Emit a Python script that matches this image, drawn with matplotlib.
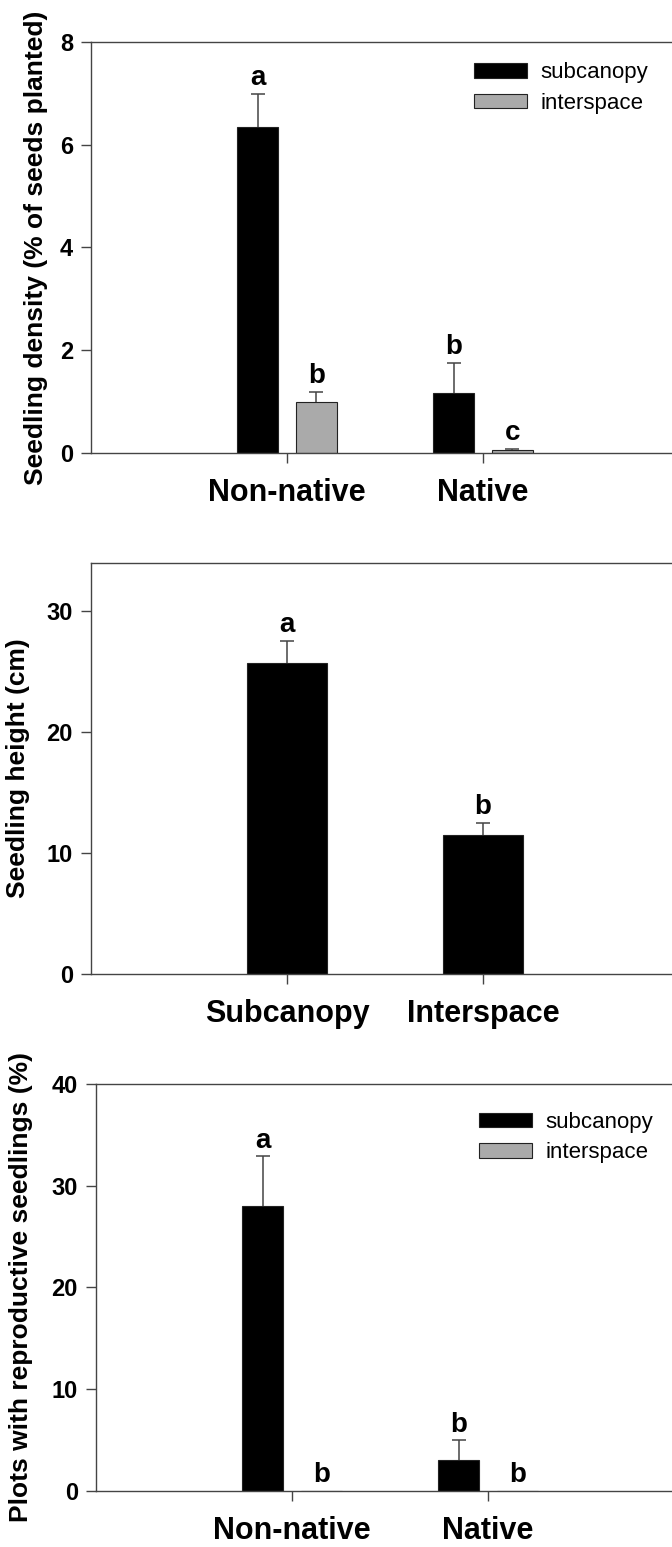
import matplotlib
matplotlib.use('Agg')
import matplotlib.pyplot as plt

plt.rcParams['font.family'] = ['Liberation Sans', 'DejaVu Sans']

# top panel: seedling density
origin = ['Non-native', 'Native']
dens_sub = [6.35, 1.16]
dens_sub_se = [0.64, 0.60]
dens_sub_let = ['a', 'b']
dens_int = [0.99, 0.05]
dens_int_se = [0.20, 0.03]
dens_int_let = ['b', 'c']

# middle panel: seedling height
microsite = ['Subcanopy', 'Interspace']
height = [25.7, 11.5]
height_se = [1.85, 1.0]
height_let = ['a', 'b']

# bottom panel: plots with reproductive seedlings
repro_sub = [28.0, 3.0]
repro_sub_se = [4.9, 1.96]
repro_sub_let = ['a', 'b']
repro_int = [0.0, 0.0]
repro_int_se = [0.0, 0.0]
repro_int_let = ['b', 'b']

EDGE = '#444444'
GREY = '#aaaaaa'


def draw_bars(ax, x, vals, se, letters, color, width, label=None):
    ax.bar(x, vals, width, color=color, edgecolor='#222222', linewidth=0.8,
           zorder=2, label=label)
    for xi, v, e, lab in zip(x, vals, se, letters):
        if e > 0:
            # upper half of the error bar only, cap on top
            ax.vlines(xi, v, v + e, color=EDGE, linewidth=1.1, zorder=3)
            ax.plot(xi, v + e, marker='_', markersize=10, markeredgewidth=1.1,
                    color=EDGE, zorder=3)
        ax.annotate(lab, (xi, v + e), xytext=(0, 2), textcoords='offset points',
                    ha='center', va='bottom', fontsize=20, fontweight='bold')


def style(ax, ytop, yticks, cats, ylabel, lab_x):
    ax.set_xlim(0, 3)
    ax.set_ylim(0, ytop)
    ax.set_yticks(yticks)
    ax.set_yticklabels([str(t) for t in yticks], fontweight='bold')
    ax.set_xticks([1, 2])
    ax.set_xticklabels(cats, fontsize=22, fontweight='bold')
    ax.tick_params(axis='x', length=7, width=1, pad=11, color=EDGE)
    ax.tick_params(axis='y', length=7, width=1, pad=6, labelsize=17, color=EDGE)
    ax.spines['right'].set_visible(False)
    for s in ax.spines.values():
        s.set_color(EDGE)
        s.set_linewidth(1.0)
    ax.set_ylabel(ylabel, fontsize=19, fontweight='bold')
    ax.yaxis.set_label_coords(lab_x, 0.5)


def add_legend(ax, top):
    ax.legend(loc='upper left', bbox_to_anchor=(0.651, top), frameon=False,
              fontsize=16, handlelength=2.4, handleheight=0.62,
              handletextpad=0.6, labelspacing=0.43, borderpad=0, borderaxespad=0)


fig = plt.figure(figsize=(6.72, 15.47), dpi=100)

off = 0.15
bw = 0.21
xs = [1, 2]

ax1 = fig.add_axes([0.1354, 0.7072, 0.875, 0.2657])
draw_bars(ax1, [x - off for x in xs], dens_sub, dens_sub_se, dens_sub_let, 'black', bw, 'subcanopy')
draw_bars(ax1, [x + off for x in xs], dens_int, dens_int_se, dens_int_let, GREY, bw, 'interspace')
style(ax1, 8, [0, 2, 4, 6, 8], origin, 'Seedling density (% of seeds planted)', -0.073)
add_legend(ax1, 0.95)

ax2 = fig.add_axes([0.1354, 0.3704, 0.875, 0.2659])
draw_bars(ax2, xs, height, height_se, height_let, 'black', 0.41)
style(ax2, 34, [0, 10, 20, 30], microsite, 'Seedling height (cm)', -0.104)

ax3 = fig.add_axes([0.1429, 0.0364, 0.875, 0.2627])
draw_bars(ax3, [x - off for x in xs], repro_sub, repro_sub_se, repro_sub_let, 'black', bw, 'subcanopy')
draw_bars(ax3, [x + off for x in xs], repro_int, repro_int_se, repro_int_let, GREY, bw, 'interspace')
style(ax3, 40, [0, 10, 20, 30, 40], origin, 'Plots with reproductive seedlings (%)', -0.107)
add_legend(ax3, 0.932)

fig.savefig('out.png', dpi=100)
